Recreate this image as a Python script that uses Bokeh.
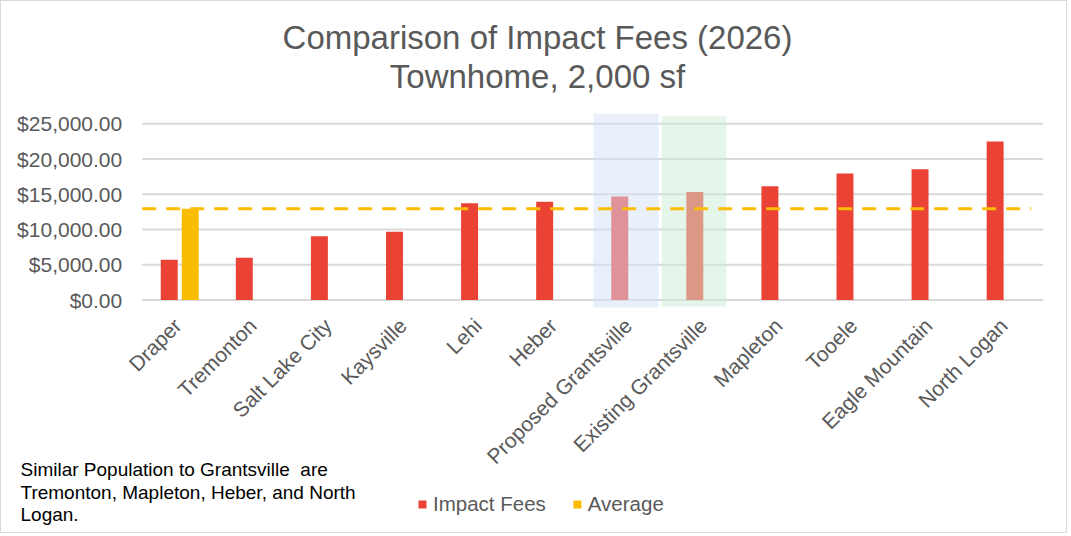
import math
import numpy as np
from bokeh.plotting import figure
from bokeh.models import Range1d, Legend, LegendItem, Label, ColumnDataSource
from bokeh.core.properties import value
from bokeh.embed import file_html
from bokeh.resources import INLINE

# ---- data ----
cities = ["Draper", "Tremonton", "Salt Lake City", "Kaysville", "Lehi", "Heber",
          "Proposed Grantsville", "Existing Grantsville", "Mapleton", "Tooele",
          "Eagle Mountain", "North Logan"]
impact_fees = [5700, 6000, 9050, 9700, 13730, 13930, 14670, 15340, 16140, 17940, 18550, 22500]
average_fee = 12950
y_ticks = [0, 5000, 10000, 15000, 20000, 25000]
y_tick_labels = ["${:,.2f}".format(t) for t in y_ticks]
highlighted = ["Proposed Grantsville", "Existing Grantsville"]
highlight_colors = ["#D3E1F9", "#CDEBD5"]

title_lines = ["Comparison of Impact Fees (2026)", "Townhome, 2,000 sf"]
note_lines = ["Similar Population to Grantsville\u00a0 are",
              "Tremonton, Mapleton, Heber, and North",
              "Logan."]

RED = "#EA4335"
YELLOW = "#FBBC04"
TXT = "#595959"
FONT = "Liberation Sans"
W, H = 1067, 533

n = len(cities)
centers = np.arange(n) + 0.5

p = figure(width=W, height=H, output_backend="svg", toolbar_location=None,
           x_range=Range1d(-1.8739, 12.337), y_range=Range1d(-33272, 42353),
           min_border=0, min_border_left=0, min_border_right=0,
           min_border_top=0, min_border_bottom=0)
p.axis.visible = False
p.grid.visible = False
p.outline_line_color = None
p.background_fill_color = "white"
p.border_fill_color = "white"
p.styles = {"border": "1px solid #D9D9D9"}

# gridlines
p.segment(x0=[0] * len(y_ticks), x1=[n] * len(y_ticks), y0=y_ticks, y1=y_ticks,
          line_color="#D9D9D9", line_width=2)

# y tick labels
p.text(x=[0] * len(y_ticks), y=y_ticks, text=y_tick_labels, x_offset=-20,
       text_align="right", text_baseline="middle", text_font=value(FONT),
       text_font_size="21px", text_color=TXT)

# category labels
p.text(x=centers, y=[0] * n, text=cities, angle=math.pi / 4, x_offset=-2, y_offset=22,
       text_align="right", text_baseline="middle", text_font=value(FONT),
       text_font_size="21px", text_color=TXT)

# bars
src = ColumnDataSource(dict(x=centers - 0.14, top=impact_fees))
r_fee = p.vbar(x="x", top="top", width=0.226, source=src, color=RED, line_color=None)
r_avg = p.vbar(x=[centers[0] + 0.14], top=[average_fee], width=0.226, color=YELLOW, line_color=None)

# highlight boxes
for name, col, (lo, hi, ybot, ytop) in zip(highlighted, highlight_colors,
                                          [(0.01, 0.88, -1050, 26420), (-0.08, 0.78, -910, 26080)]):
    i = cities.index(name)
    p.quad(left=[i + lo], right=[i + hi], bottom=[ybot], top=[ytop],
           fill_color=col, fill_alpha=0.5, line_color=None)

# average dashed line
p.line(x=[0, n - 0.16], y=[average_fee, average_fee], line_color=YELLOW,
       line_width=3, line_dash="14 10")

# title (screen units, y from bottom)
for txt, yc in zip(title_lines, [36, 75]):
    p.add_layout(Label(x=536, y=H - yc, x_units="screen", y_units="screen", text=txt,
                       text_align="center", text_baseline="middle", text_font=FONT,
                       text_font_size="33px", text_color=TXT))

# note
for txt, yc in zip(note_lines, [468, 491, 513]):
    p.add_layout(Label(x=19, y=H - yc, x_units="screen", y_units="screen", text=txt,
                       text_align="left", text_baseline="middle", text_font=FONT,
                       text_font_size="19px", text_color="#000000"))

legend = Legend(items=[LegendItem(label="Impact Fees", renderers=[r_fee]),
                       LegendItem(label="Average", renderers=[r_avg])],
                orientation="horizontal", location=(416, 18),
                label_text_font=FONT, label_text_font_size="20.5px", label_text_color=TXT,
                glyph_width=10, glyph_height=10, label_standoff=6, spacing=26,
                padding=0, margin=0, border_line_color=None, background_fill_alpha=0)
p.add_layout(legend, "center")

open("out.html", "w").write(file_html(p, INLINE))
